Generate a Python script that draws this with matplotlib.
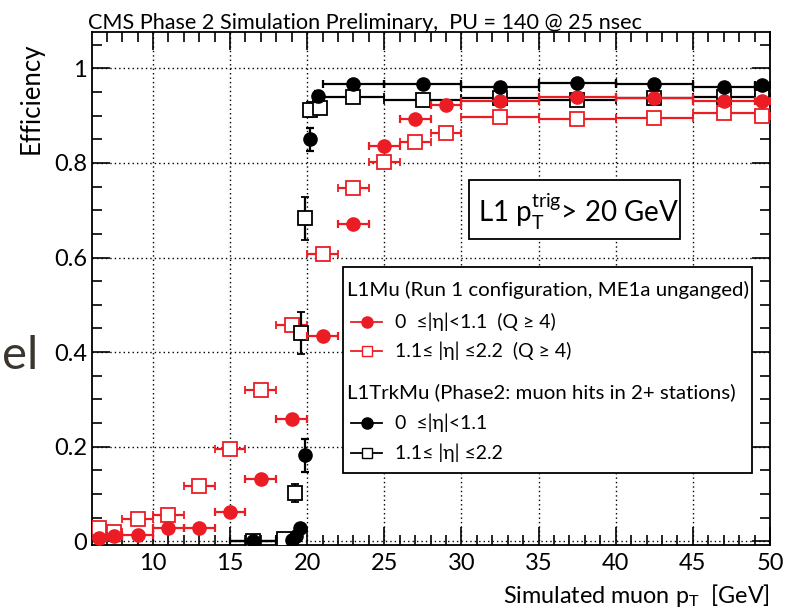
import matplotlib
matplotlib.use("Agg")
import matplotlib.pyplot as plt
from matplotlib.lines import Line2D
from matplotlib.patches import Rectangle

plt.rcParams['font.family'] = ['Lato', 'DejaVu Sans']
plt.rcParams['mathtext.fontset'] = 'custom'
plt.rcParams['mathtext.rm'] = 'Lato'
plt.rcParams['mathtext.it'] = 'Lato'
plt.rcParams['mathtext.bf'] = 'Lato:bold'
plt.rcParams['mathtext.default'] = 'regular'

RED = '#ec1c24'

# L1Mu, 0 <= |eta| < 1.1 (red filled circles)
rb_x = [6.5, 7.5, 9, 11, 13, 15, 17, 19, 21, 23, 25, 27, 29, 32.5, 37.5, 42.5, 47, 49.5]
rb_xerr = [0.5, 0.5, 1, 1, 1, 1, 1, 1, 1, 1, 1, 1, 1, 2.5, 2.5, 2.5, 2, 0.5]
rb_y = [0.006, 0.011, 0.013, 0.027, 0.029, 0.062, 0.131, 0.258, 0.435, 0.671,
        0.835, 0.892, 0.922, 0.932, 0.939, 0.938, 0.932, 0.932]

# L1Mu, 1.1 <= |eta| <= 2.2 (red open squares)
re_x = rb_x
re_xerr = rb_xerr
re_y = [0.027, 0.020, 0.048, 0.055, 0.116, 0.196, 0.320, 0.457, 0.607, 0.748,
        0.802, 0.845, 0.863, 0.898, 0.894, 0.895, 0.906, 0.899]

# L1TrkMu, 0 <= |eta| < 1.1 (black filled circles)
bb_x = [16.5, 19.0, 19.3, 19.55, 19.85, 20.2, 20.7, 23, 27.5, 32.5, 37.5, 42.5, 47, 49.5]
bb_xerr = [1.5, 0, 0, 0, 0, 0, 0, 2, 2.5, 2.5, 2.5, 2.5, 2, 0.5]
bb_y = [0.0, 0.003, 0.010, 0.027, 0.182, 0.850, 0.941, 0.967, 0.966, 0.960,
        0.970, 0.968, 0.961, 0.965]
bb_yerr = [0, 0.003, 0.005, 0.008, 0.035, 0.025, 0.012, 0.005, 0.004, 0.004,
           0.004, 0.004, 0.004, 0.004]

# L1TrkMu, 1.1 <= |eta| <= 2.2 (black open squares)
be_x = [16.5, 18.5, 19.2, 19.6, 19.85, 20.2, 20.8, 23, 27.5, 32.5, 37.5, 42.5, 47, 49.5]
be_xerr = [1.5, 0.5, 0, 0, 0, 0, 0, 2, 2.5, 2.5, 2.5, 2.5, 2, 0.5]
be_y = [0.0, 0.005, 0.102, 0.440, 0.683, 0.913, 0.917, 0.939, 0.934, 0.937,
        0.934, 0.937, 0.940, 0.940]
be_yerr = [0, 0.004, 0.02, 0.045, 0.045, 0.015, 0.01, 0.005, 0.004, 0.004,
           0.004, 0.004, 0.004, 0.004]

W, H = 789, 615


def fx(px):
    return px / W


def fy(py):
    return 1 - py / H


fig = plt.figure(figsize=(7.89, 6.15), dpi=100)
ax = fig.add_axes([fx(92), fy(545), fx(770) - fx(92), fy(32) - fy(545)])

eb = dict(linestyle='none', capsize=3, elinewidth=1.6, capthick=1.6, markersize=9.5)
ax.errorbar(re_x, re_y, xerr=re_xerr, fmt='s', color=RED, mfc='white', mec=RED,
            mew=1.3, zorder=3, **eb)
ax.errorbar(be_x, be_y, xerr=be_xerr, yerr=be_yerr, fmt='s', color='black',
            mfc='white', mec='black', mew=1.3, zorder=4, **eb)
ax.errorbar(rb_x, rb_y, xerr=rb_xerr, fmt='o', color=RED, zorder=5, **eb)
ax.errorbar(bb_x, bb_y, xerr=bb_xerr, yerr=bb_yerr, fmt='o', color='black',
            zorder=6, **eb)

ax.set_xlim(6.05, 50)
ax.set_ylim(-0.008, 1.077)
ax.set_xticks([10, 15, 20, 25, 30, 35, 40, 45, 50])
ax.set_xticks(range(7, 51), minor=True)
ax.set_yticks([0, 0.2, 0.4, 0.6, 0.8, 1.0])
ax.set_yticklabels(['0', '0.2', '0.4', '0.6', '0.8', '1'])
ax.set_yticks([i * 0.05 for i in range(22)], minor=True)
ax.tick_params(which='both', direction='in', top=True, right=True, labelsize=17,
               width=1.2)
ax.tick_params(which='major', length=13)
ax.tick_params(which='minor', length=7)
ax.tick_params(axis='x', pad=6)
ax.grid(True, which='major', linestyle=(0, (1, 2.2)), color='black', linewidth=1.0)
ax.set_axisbelow(True)
for s in ax.spines.values():
    s.set_linewidth(1.3)

fig.text(fx(88), fy(29), 'CMS Phase 2 Simulation Preliminary,  PU = 140 @ 25 nsec',
         fontsize=15.6, ha='left', va='baseline')
fig.text(fx(31), fy(42), 'Efficiency', fontsize=18.5, rotation=90, ha='center', va='top')
fig.text(fx(770), fy(603), r'Simulated muon $p_{T}$  [GeV]', fontsize=16.8,
         ha='right', va='baseline')
fig.text(fx(2), fy(356), 'el', fontsize=34, color='#3b3530', ha='left', va='center')

# threshold box
fig.add_artist(Rectangle((fx(469), fy(239)), fx(680) - fx(469), fy(180) - fy(239),
                         transform=fig.transFigure, facecolor='white',
                         edgecolor='black', linewidth=1.3, zorder=5))
fig.text(fx(478), fy(212), r'L1 $p_{T}^{trig}$> 20 GeV', fontsize=20,
         ha='left', va='center', zorder=6)

# legend
fig.add_artist(Rectangle((fx(343), fy(473)), fx(752) - fx(343), fy(267) - fy(473),
                         transform=fig.transFigure, facecolor='white',
                         edgecolor='black', linewidth=1.3, zorder=5))
fig.text(fx(347), fy(290), 'L1Mu (Run 1 configuration, ME1a unganged)',
         fontsize=14.7, ha='left', va='center', zorder=6)
fig.text(fx(347), fy(392), 'L1TrkMu (Phase2: muon hits in 2+ stations)',
         fontsize=14.7, ha='left', va='center', zorder=6)
entries = [
    (322, 'o', RED, RED, '0  \u2264|\u03b7|<1.1  (Q \u2265 4)'),
    (351, 's', RED, 'white', '1.1\u2264 |\u03b7| \u22642.2  (Q \u2265 4)'),
    (423, 'o', 'black', 'black', '0  \u2264|\u03b7|<1.1'),
    (453, 's', 'black', 'white', '1.1\u2264 |\u03b7| \u22642.2'),
]
for py, m, c, fc, label in entries:
    fig.add_artist(Line2D([fx(351), fx(367), fx(382)], [fy(py)] * 3,
                          transform=fig.transFigure, color=c, linewidth=1.3,
                          marker=m, markevery=[1], markersize=8 if m == 'o' else 7,
                          mfc=fc, mec=c, zorder=6))
    fig.text(fx(395), fy(py), label, fontsize=14, ha='left', va='center', zorder=6)

fig.savefig('out.png', dpi=100)
